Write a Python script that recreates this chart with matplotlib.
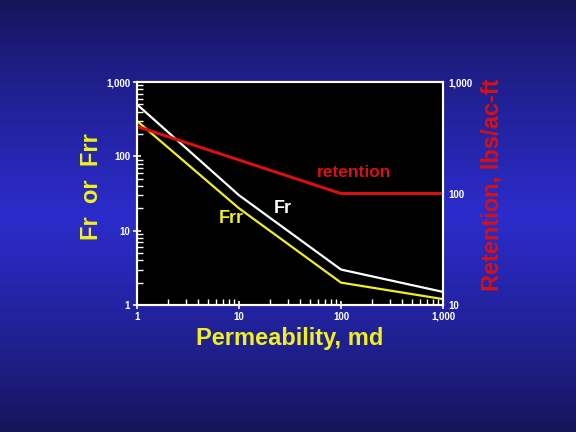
import matplotlib.pyplot as plt
import numpy as np
from matplotlib.ticker import FuncFormatter, LogLocator, NullFormatter

# data
perm = [1, 10, 100, 1000]
fr = [500, 30, 3.0, 1.5]
frr = [300, 20, 2.0, 1.2]
perm_ret = [1, 100, 1000]
retention = [400, 100, 100]

plt.rcParams['font.family'] = ['Liberation Sans', 'DejaVu Sans']
plt.rcParams['font.weight'] = 'bold'

fig = plt.figure(figsize=(5.76, 4.32), dpi=100)

# blue slide background, darker at top and bottom
bg = fig.add_axes([0, 0, 1, 1], zorder=-10)
t = np.linspace(0, 1, 256)
w = 1 - np.abs(t - 0.5) * 2
dark = np.array([0.08, 0.08, 0.34])
light = np.array([0.17, 0.17, 0.80])
grad = dark + (light - dark) * w[:, None] ** 0.8
bg.imshow(grad[:, None, :], aspect='auto', extent=[0, 1, 0, 1])
bg.axis('off')

ax = fig.add_axes([0.2378, 0.294, 0.5313, 0.516])
ax.set_facecolor('black')
ax.plot(perm, fr, color='white', lw=1.6)
ax.plot(perm, frr, color='#f0f020', lw=1.6)
ax.set_xscale('log')
ax.set_yscale('log')
ax.set_xlim(1, 1000)
ax.set_ylim(1, 1000)

ax2 = ax.twinx()
ax2.plot(perm_ret, retention, color='#d81010', lw=2.2)
ax2.set_yscale('log')
ax2.set_ylim(10, 1000)

fmt = FuncFormatter(lambda v, p: '{:,.0f}'.format(v))
for a in (ax, ax2):
    for s in a.spines.values():
        s.set_color('white')
        s.set_linewidth(1.5)
    a.yaxis.set_major_formatter(fmt)
    a.yaxis.set_minor_formatter(NullFormatter())
ax.xaxis.set_major_formatter(fmt)
ax.xaxis.set_minor_formatter(NullFormatter())
ax.xaxis.set_major_locator(LogLocator(base=10, numticks=10))
ax.yaxis.set_major_locator(LogLocator(base=10, numticks=10))
ax2.yaxis.set_major_locator(LogLocator(base=10, numticks=10))

ax.tick_params(which='major', direction='inout', length=6, width=1.2, colors='white',
               labelsize=7, pad=2)
ax.tick_params(which='minor', direction='in', length=4, width=1, colors='white')
ax2.tick_params(which='both', length=0, colors='white', labelsize=7, pad=4)

for lab in ax.get_xticklabels() + ax.get_yticklabels() + ax2.get_yticklabels():
    lab.set_fontweight('bold')

ax.set_xlabel('Permeability, md', color='#f0f020', fontsize=17, fontweight='bold')
ax.set_ylabel('Fr  or  Frr', color='#f0f020', fontsize=17, fontweight='bold')
ax2.set_ylabel('Retention, lbs/ac-ft', color='#d81010', fontsize=17, fontweight='bold')
ax.xaxis.set_label_coords(0.5, -0.10)
ax.yaxis.set_label_coords(-0.11, 0.53)
ax2.yaxis.set_label_coords(1.122, 0.54)

ax2.text(134, 156, 'retention', color='#d81010', fontsize=12.5, fontweight='bold',
         ha='center', va='center')
ax.text(27, 20, 'Fr', color='white', fontsize=13, fontweight='bold', ha='center', va='center')
ax.text(8.4, 14.8, 'Frr', color='#f0f020', fontsize=13, fontweight='bold',
        ha='center', va='center')

fig.savefig('out.png', dpi=100)
